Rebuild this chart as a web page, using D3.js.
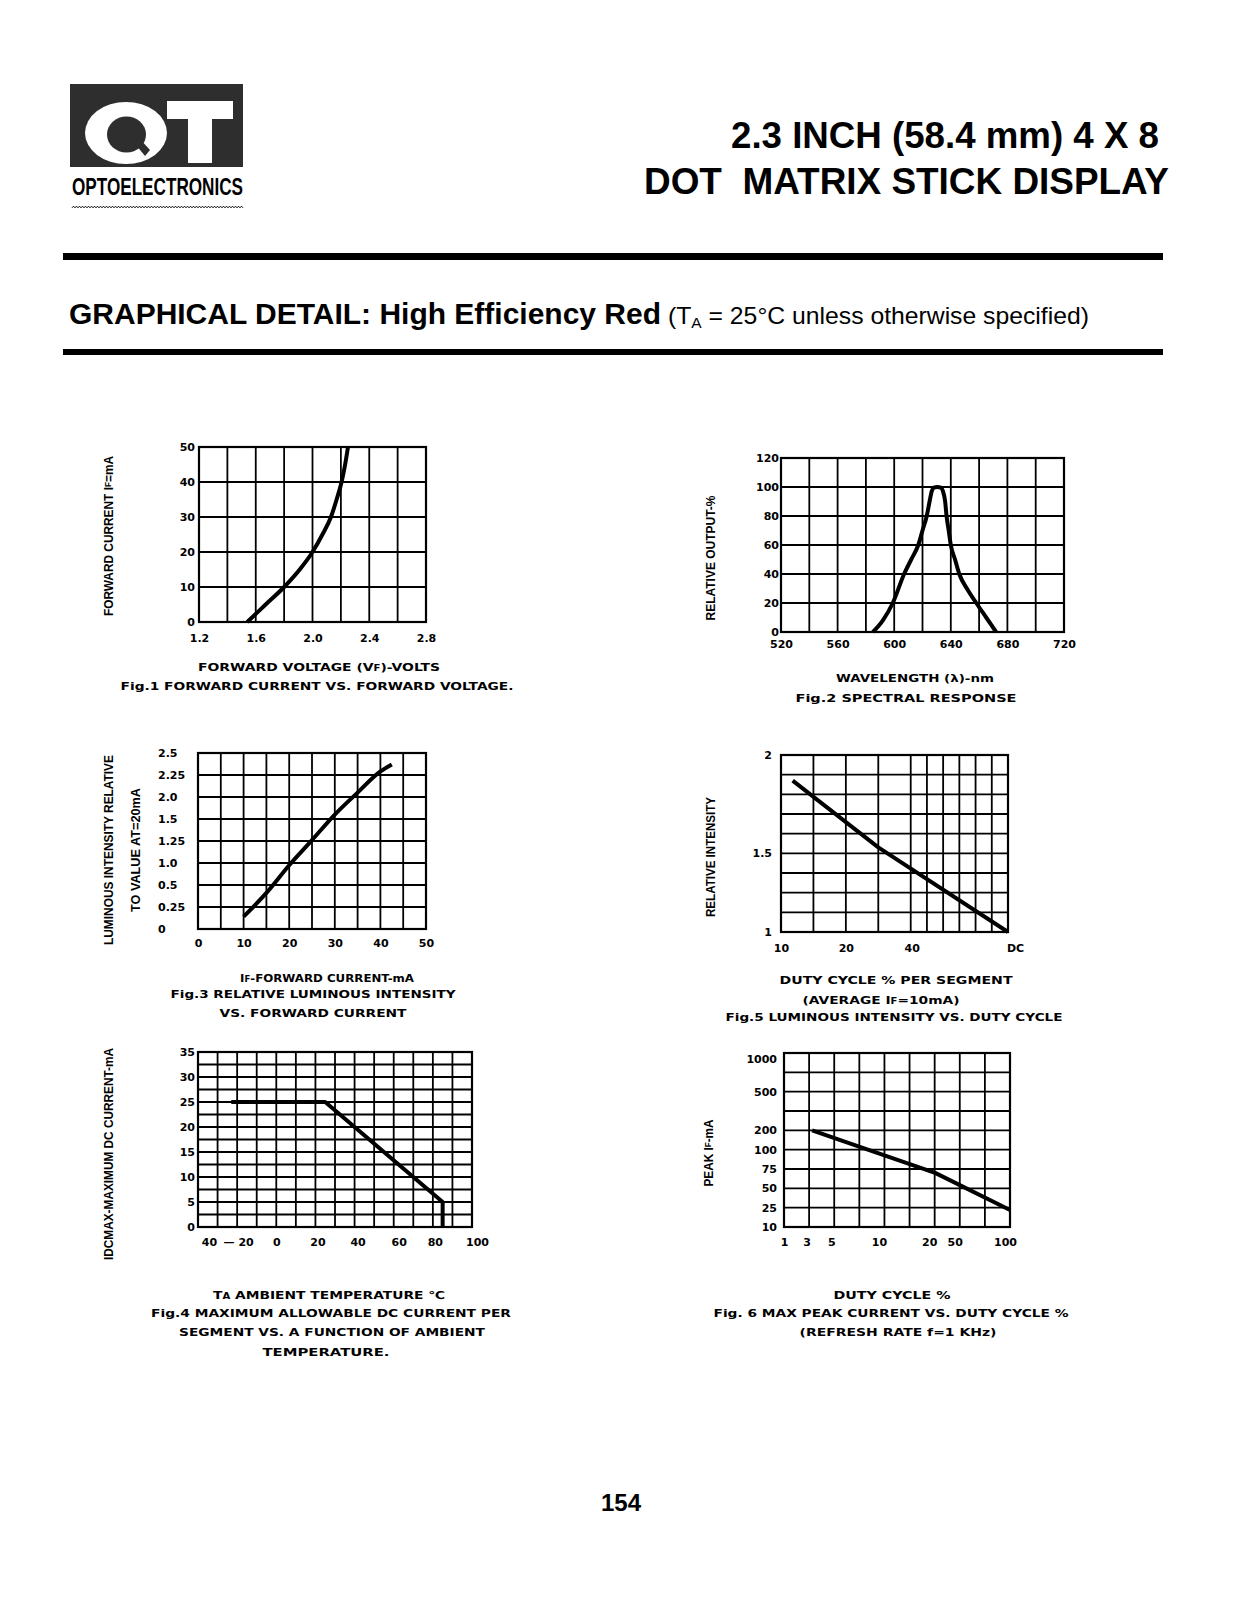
<!DOCTYPE html>
<html>
<head>
<meta charset="utf-8">
<script src="https://cdn.jsdelivr.net/npm/d3@7"></script>
<style>
body { margin: 0; background: #fff; }
text { fill: #000; }
.tk { font-family: "DejaVu Sans", sans-serif; font-weight: bold; font-size: 11px; }
.cap { font-family: "DejaVu Sans", sans-serif; font-weight: bold; font-size: 11px; }
.ylab { font-family: "Liberation Sans", Arial, sans-serif; font-weight: bold; font-size: 13px; }
.grid line { stroke: #000; stroke-width: 1.8; }
</style>
</head>
<body>
<svg id="page" width="1237" height="1600"></svg>
<script>
// ---------------- data ----------------
// Fig.1 forward current vs forward voltage
var fig1Volt = [1.54, 1.67, 1.8, 1.91, 2.0, 2.07, 2.13, 2.17, 2.205, 2.23, 2.25];
var fig1Curr = [0, 5, 10, 15, 20, 25, 30, 35, 40, 45, 50];
var fig1XTicks = [1.2, 1.6, 2.0, 2.4, 2.8];
var fig1YTicks = [0, 10, 20, 30, 40, 50];

// Fig.2 spectral response
var fig2Wave = [585, 592, 599, 607, 612, 617, 620, 623, 625, 626.5, 628, 630.5, 633, 634.5, 636, 637, 638.5, 640, 643, 646, 652, 658, 665, 672];
var fig2Out  = [0, 8, 20, 40, 50, 60, 70, 80, 90, 97, 99.5, 100, 99.5, 97, 90, 80, 70, 60, 50, 40, 29, 20, 10, 0];
var fig2XTicks = [520, 560, 600, 640, 680, 720];
var fig2YTicks = [0, 20, 40, 60, 80, 100, 120];

// Fig.3 relative luminous intensity vs forward current
var fig3Curr = [10, 15, 20, 25, 30, 35, 40, 42.5];
var fig3Rel  = [0.14, 0.41, 0.95, 1.26, 1.6, 2.05, 2.29, 2.37];
var fig3XTicks = [0, 10, 20, 30, 40, 50];
var fig3YTicks = [0, 0.25, 0.5, 1.0, 1.25, 1.5, 2.0, 2.25, 2.5];
var fig3YLabels = ["0", "0.25", "0.5", "1.0", "1.25", "1.5", "2.0", "2.25", "2.5"];

// Fig.4 max DC current vs ambient temperature
var fig4Temp = [-23, 25, 85, 85];
var fig4Curr = [25, 25, 5, 0];
var fig4XTicks = [-40, -20, 0, 20, 40, 60, 80, 100];
var fig4XLabels = ["40", "\u2014 20", "0", "20", "40", "60", "80", "100"];
var fig4YTicks = [0, 5, 10, 15, 20, 25, 30, 35];

// Fig.5 luminous intensity vs duty cycle
var fig5Duty = [11.8, 30, 100];
var fig5Rel  = [1.87, 1.53, 1.0];
var fig5XGrid = [10, 15, 20, 30, 40, 50, 60, 70, 80, 90, 100];
var fig5XTicks = [10, 20, 40, 100];
var fig5XLabels = ["10", "20", "40", "DC"];
var fig5YTicks = [1, 1.5, 2];
var fig5YLabels = ["1", "1.5", "2"];

// Fig.6 max peak current vs duty cycle
var fig6Duty = [3.45, 8.0, 27, 100];
var fig6Peak = [200, 114, 70, 23.2];
var fig6XTicks = [1, 3, 5, 10, 20, 50, 100];
var fig6YTicks = [10, 25, 50, 75, 100, 200, 500, 1000];

var svg = d3.select("#page");

/***********************************************************************/
// text with {small} parts, squeezed to a given length

function richText(g, str, x, y, len, cls, small) {
  var el = g.append("text").attr("x", x).attr("y", y)
    .attr("text-anchor", "middle").attr("class", cls);
  str.split(/[{}]/).forEach(function(s, i) {
    if (!s) return;
    var t = el.append("tspan").text(s);
    if (i % 2 === 1) t.attr("font-size", small);
  });
  if (len) el.attr("textLength", len).attr("lengthAdjust", "spacingAndGlyphs");
  return el;
}

function yTitle(g, str, cx, cy, len) {
  var el = richText(g, str, 0, 0, len, "ylab", "9px");
  el.attr("dominant-baseline", "central")
    .attr("transform", "translate(" + cx + "," + cy + ") rotate(-90)");
}

/***********************************************************************/

function drawChart(c) {
  var g = svg.append("g");
  var x0 = c.x.range()[0], x1 = c.x.range()[c.x.range().length - 1];
  var y1 = c.y.range()[0], y0 = c.y.range()[c.y.range().length - 1];

  var col = d3.scaleLinear().domain([0, c.cols]).range([x0, x1]);
  var row = d3.scaleLinear().domain([0, c.rows]).range([y1, y0]);
  var vx = c.xGrid ? c.xGrid.map(c.x) : d3.range(1, c.cols).map(col);
  var hy = d3.range(1, c.rows).map(row);

  var grid = g.append("g").attr("class", "grid");
  grid.selectAll(".v").data(vx).join("line").attr("class", "v")
    .attr("x1", function(d) { return d; }).attr("x2", function(d) { return d; })
    .attr("y1", y0).attr("y2", y1);
  grid.selectAll(".h").data(hy).join("line").attr("class", "h")
    .attr("y1", function(d) { return d; }).attr("y2", function(d) { return d; })
    .attr("x1", x0).attr("x2", x1);
  g.append("rect").attr("x", x0).attr("y", y0)
    .attr("width", x1 - x0).attr("height", y1 - y0)
    .attr("fill", "none").attr("stroke", "#000").attr("stroke-width", 2.2);

  // curve
  var pts = c.xs.map(function(d, i) { return [d, c.ys[i]]; });
  g.append("path").datum(pts)
    .attr("fill", "none").attr("stroke", "#000").attr("stroke-width", 4)
    .attr("stroke-linejoin", "round").attr("stroke-linecap", "butt")
    .attr("d", d3.line()
      .x(function(d) { return c.x(d[0]); })
      .y(function(d) { return c.y(d[1]); })
      .curve(c.curve || d3.curveLinear));

  // axes
  var ax = g.append("g").attr("transform", "translate(0," + y1 + ")")
    .call(d3.axisBottom(c.x).tickValues(c.xTicks).tickSize(0).tickPadding(c.xPad)
      .tickFormat(function(d, i) { return c.xLabels ? c.xLabels[i] : c.xFmt ? c.xFmt(d) : d; }));
  ax.select(".domain").remove();
  ax.selectAll("text").attr("class", "tk");
  if (c.xDx) ax.selectAll("text").attr("dx", function(d, i) { return c.xDx[i] || 0; });

  var ay = g.append("g").attr("transform", "translate(" + x0 + ",0)")
    .call(d3.axisLeft(c.y).tickValues(c.yTicks).tickSize(0).tickPadding(c.yPad)
      .tickFormat(function(d, i) { return c.yLabels ? c.yLabels[i] : d; }));
  ay.select(".domain").remove();
  ay.selectAll("text").attr("class", "tk");
  if (c.yLabelX) {
    ay.selectAll("text").attr("text-anchor", "start").attr("x", c.yLabelX - x0);
  }
  if (c.yDy) ay.selectAll("text").attr("y", function(d, i) { return c.yDy[i] || 0; });

  c.titles.forEach(function(t) { yTitle(g, t[0], t[1], t[2], t[3]); });
  c.caps.forEach(function(t) { richText(g, t[0], t[1], t[2], t[3], "cap", "8px"); });
}

/***********************************************************************/
// header

var dark = "#2e2e2e";
var logo = svg.append("g");
logo.append("rect").attr("x", 70).attr("y", 84).attr("width", 173).attr("height", 83).attr("fill", dark);
logo.append("ellipse").attr("cx", 126).attr("cy", 133).attr("rx", 41).attr("ry", 31).attr("fill", "#fff");
logo.append("ellipse").attr("cx", 126.5).attr("cy", 134.5).attr("rx", 19.5).attr("ry", 18).attr("fill", dark);
logo.append("path").attr("d", "M122,128 L128,126 L150,150 L145,156 Z").attr("fill", dark);
logo.append("rect").attr("x", 167).attr("y", 101).attr("width", 66).attr("height", 18).attr("fill", "#fff");
logo.append("rect").attr("x", 188).attr("y", 101).attr("width", 24).attr("height", 62).attr("fill", "#fff");
logo.append("text").attr("x", 72).attr("y", 195).text("OPTOELECTRONICS")
  .attr("font-family", "Liberation Sans, Arial, sans-serif").attr("font-weight", "bold").attr("font-size", 24)
  .attr("textLength", 171).attr("lengthAdjust", "spacingAndGlyphs");
logo.append("path")
  .attr("d", d3.line()(d3.range(0, 115).map(function(i) { return [72 + i * 1.5, 207 + (i % 2 ? -0.8 : 0.8)]; })))
  .attr("fill", "none").attr("stroke", "#000").attr("stroke-width", 1);

svg.append("text").attr("x", 1159).attr("y", 148).attr("text-anchor", "end")
  .attr("font-family", "Liberation Sans, Arial, sans-serif").attr("font-weight", "bold").attr("font-size", 36)
  .attr("textLength", 428).attr("lengthAdjust", "spacingAndGlyphs")
  .text("2.3 INCH (58.4 mm) 4 X 8");
svg.append("text").attr("x", 1169).attr("y", 194).attr("text-anchor", "end")
  .attr("font-family", "Liberation Sans, Arial, sans-serif").attr("font-weight", "bold").attr("font-size", 36)
  .attr("textLength", 525).attr("lengthAdjust", "spacingAndGlyphs")
  .attr("xml:space", "preserve").text("DOT  MATRIX STICK DISPLAY");

svg.append("rect").attr("x", 63).attr("y", 253).attr("width", 1100).attr("height", 7).attr("fill", "#000");
svg.append("rect").attr("x", 63).attr("y", 349).attr("width", 1100).attr("height", 6).attr("fill", "#000");

svg.append("text").attr("x", 69).attr("y", 324)
  .attr("font-family", "Liberation Sans, Arial, sans-serif").attr("font-weight", "bold").attr("font-size", 29)
  .attr("textLength", 592).attr("lengthAdjust", "spacingAndGlyphs")
  .text("GRAPHICAL DETAIL: High Efficiency Red");
var sub = svg.append("text").attr("x", 668).attr("y", 324)
  .attr("font-family", "Liberation Sans, Arial, sans-serif").attr("font-size", 24)
  .attr("textLength", 421).attr("lengthAdjust", "spacingAndGlyphs");
sub.append("tspan").text("(T");
sub.append("tspan").text("A").attr("font-size", 15).attr("dy", 4);
sub.append("tspan").text(" = 25\u00B0C unless otherwise specified)").attr("dy", -4);

svg.append("text").attr("x", 621).attr("y", 1511).attr("text-anchor", "middle")
  .attr("font-family", "Liberation Sans, Arial, sans-serif").attr("font-weight", "bold").attr("font-size", 24)
  .text("154");

/***********************************************************************/
// charts

drawChart({
  x: d3.scaleLinear().domain([1.2, 2.8]).range([199, 426]),
  y: d3.scaleLinear().domain([0, 50]).range([622, 447]),
  cols: 8, rows: 5,
  xs: fig1Volt, ys: fig1Curr, curve: d3.curveMonotoneX,
  xTicks: fig1XTicks, xFmt: d3.format(".1f"), xPad: 12,
  yTicks: fig1YTicks, yPad: 4,
  titles: [["FORWARD CURRENT I{F}=mA", 108, 536, 160]],
  caps: [["FORWARD VOLTAGE (V{F})-VOLTS", 319, 671, 242],
         ["Fig.1 FORWARD CURRENT VS. FORWARD VOLTAGE.", 317, 690, 393]]
});

drawChart({
  x: d3.scaleLinear().domain([520, 720]).range([781, 1064]),
  y: d3.scaleLinear().domain([0, 120]).range([632, 458]),
  cols: 10, rows: 6,
  xs: fig2Wave, ys: fig2Out, curve: d3.curveMonotoneX,
  xTicks: fig2XTicks, xPad: 8,
  yTicks: fig2YTicks, yPad: 2,
  titles: [["RELATIVE OUTPUT-%", 710, 558, 125]],
  caps: [["WAVELENGTH (\u03BB)-nm", 915, 682, 158],
         ["Fig.2 SPECTRAL RESPONSE", 906, 702, 221]]
});

drawChart({
  x: d3.scaleLinear().domain([0, 50]).range([198, 426]),
  y: d3.scaleLinear().domain(fig3YTicks).range(fig3YTicks.map(function(d, i) { return 929 - i * 22; })),
  cols: 10, rows: 8,
  xs: fig3Curr, ys: fig3Rel, curve: d3.curveMonotoneX,
  xTicks: fig3XTicks, xPad: 10,
  yTicks: fig3YTicks, yLabels: fig3YLabels, yPad: 4, yLabelX: 158,
  titles: [["LUMINOUS INTENSITY RELATIVE", 108, 850, 190],
           ["TO VALUE AT=20mA", 135, 850, 124]],
  caps: [["I{F}-FORWARD CURRENT-mA", 327, 982, 174],
         ["Fig.3 RELATIVE LUMINOUS INTENSITY", 313, 998, 285],
         ["VS. FORWARD CURRENT", 313, 1017, 187]]
});

drawChart({
  x: d3.scaleLinear().domain([-40, 100]).range([198, 472]),
  y: d3.scaleLinear().domain([0, 35]).range([1227, 1052]),
  cols: 14, rows: 14,
  xs: fig4Temp, ys: fig4Curr,
  xTicks: fig4XTicks, xLabels: fig4XLabels, xPad: 11, xDx: [11, 1, 0, 2, 3, 5, 2, 5],
  yTicks: fig4YTicks, yPad: 3,
  titles: [["IDCMAX-MAXIMUM DC CURRENT-mA", 108, 1154, 212]],
  caps: [["T{A} AMBIENT TEMPERATURE \u2103", 329, 1299, 232],
         ["Fig.4 MAXIMUM ALLOWABLE DC CURRENT PER", 331, 1317, 360],
         ["SEGMENT VS. A FUNCTION OF AMBIENT", 332, 1336, 306],
         ["TEMPERATURE.", 326, 1356, 127]]
});

drawChart({
  x: d3.scaleLinear().domain(fig5XGrid)
    .range([0, 1, 2, 3, 4, 4.5, 5, 5.5, 6, 6.5, 7].map(function(k) { return 781 + k * 227 / 7; })),
  y: d3.scaleLinear().domain(fig5YTicks).range([932, 932 - 4 * 177 / 9, 755]),
  cols: 7, rows: 9, xGrid: fig5XGrid.slice(1, -1),
  xs: fig5Duty, ys: fig5Rel,
  xTicks: fig5XTicks, xLabels: fig5XLabels, xPad: 12, xDx: [0, 0, 1, 7],
  yTicks: fig5YTicks, yLabels: fig5YLabels, yPad: 9,
  titles: [["RELATIVE INTENSITY", 710, 857, 120]],
  caps: [["DUTY CYCLE % PER SEGMENT", 896, 984, 233],
         ["(AVERAGE  I{F}=10mA)", 881, 1004, 157],
         ["Fig.5 LUMINOUS INTENSITY VS. DUTY CYCLE", 894, 1021, 337]]
});

drawChart({
  x: d3.scaleLinear().domain(fig6XTicks)
    .range([0, 0.9, 1.88, 3.78, 5.78, 6.8, 9].map(function(k) { return 784 + k * 226 / 9; })),
  y: d3.scaleLinear().domain(fig6YTicks)
    .range([0, 1, 2, 3, 4, 5, 7, 9].map(function(k) { return 1227 - k * 174 / 9; })),
  cols: 9, rows: 9,
  xs: fig6Duty, ys: fig6Peak,
  xTicks: fig6XTicks, xPad: 11, xDx: [0, 0, 0, 0, 0, 0, -5],
  yTicks: fig6YTicks, yPad: 7, yDy: [0, 0, 0, 0, 0, 0, 0, 6],
  titles: [["PEAK I{F}-mA", 708, 1153, 67]],
  caps: [["DUTY CYCLE %", 892, 1299, 117],
         ["Fig. 6 MAX PEAK CURRENT VS. DUTY CYCLE %", 891, 1317, 355],
         ["(REFRESH RATE f=1 KHz)", 898, 1336, 197]]
});
</script>
</body>
</html>
